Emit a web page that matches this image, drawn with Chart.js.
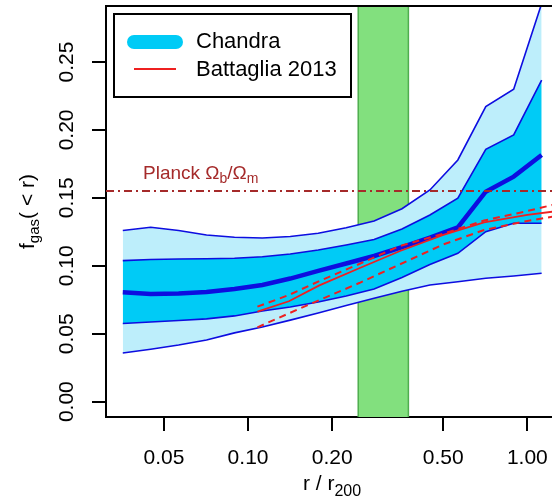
<!DOCTYPE html>
<html>
<head>
<meta charset="utf-8">
<script src="https://cdn.jsdelivr.net/npm/chart.js@4/dist/chart.umd.min.js"></script>
<style>
  html, body { margin: 0; padding: 0; background: #fff; overflow: hidden; }
</style>
</head>
<body>
<canvas id="c" width="552" height="499"></canvas>
<script>
// Chandra profile, radii in r/r200
const radii = [0.0356, 0.0448, 0.0564, 0.0710, 0.0894, 0.1125, 0.1416, 0.1783,
               0.2245, 0.2826, 0.3557, 0.4478, 0.5638, 0.7098, 0.8935, 1.125];
const outerUpper = [0.126, 0.1283, 0.126, 0.1227, 0.121, 0.1205, 0.1215, 0.124,
                    0.128, 0.133, 0.142, 0.1558, 0.1779, 0.2171, 0.2299, 0.293];
const innerUpper = [0.1038, 0.1046, 0.105, 0.1052, 0.1055, 0.1067, 0.1087, 0.1116,
                    0.1153, 0.1194, 0.1271, 0.1374, 0.1497, 0.1857, 0.1963, 0.2367];
const median = [0.0805, 0.0793, 0.0796, 0.0807, 0.0829, 0.0859, 0.0906, 0.0962,
                0.1017, 0.1072, 0.1138, 0.1208, 0.1283, 0.1545, 0.1656, 0.1815];
const innerLower = [0.0575, 0.0586, 0.0597, 0.0609, 0.0631, 0.0667, 0.0697, 0.0734,
                    0.0778, 0.0829, 0.0914, 0.101, 0.1092, 0.1251, 0.1313, 0.1313];
const outerLower = [0.0358, 0.0386, 0.0417, 0.0454, 0.0506, 0.055, 0.060, 0.0653,
                    0.0707, 0.0761, 0.0812, 0.0859, 0.0883, 0.0908, 0.0925, 0.0945];

// Battaglia 2013 simulation
const battRadii = [0.108, 0.14, 0.18, 0.25, 0.35, 0.5, 0.7, 1.0, 1.25];
const battMid = [0.0662, 0.0739, 0.0856, 0.0982, 0.1109, 0.1227, 0.132, 0.1374, 0.14];
const battHigh = [0.0699, 0.0785, 0.0888, 0.1013, 0.1146, 0.1236, 0.1333, 0.1403, 0.1451];
const battLow = [0.0547, 0.065, 0.0747, 0.0873, 0.1011, 0.1157, 0.1263, 0.133, 0.1363];

// Planck baryon fraction and the shaded radial range
const planckFrac = 0.155;
const bandRange = [0.248, 0.375];

const xTicks = [0.05, 0.10, 0.20, 0.50, 1.00];
const yTicks = [0.00, 0.05, 0.10, 0.15, 0.20, 0.25];
const legendLabels = ['Chandra', 'Battaglia 2013'];

const X_MIN = 0.031, X_MAX = 1.2253;
const Y_MIN = -0.0113, Y_MAX = 0.2912;

const FONT = "'Liberation Sans', Arial, Helvetica, sans-serif";
const BLUE = '#0d0de0';
const LIGHT = '#bdeefb';
const DARK = '#00cbf6';
const RED = '#ee2020';
const BROWN = '#a52a2a';

const pts = (xs, ys) => xs.map((x, i) => ({ x, y: ys[i] }));

// draw a row of text pieces (for subscripts), centred on x
function drawParts(ctx, parts, x, y, color) {
  let w = 0;
  for (const p of parts) {
    ctx.font = p.size + 'px ' + FONT;
    p.w = ctx.measureText(p.t).width;
    w += p.w;
  }
  let cx = x - w / 2;
  ctx.fillStyle = color;
  ctx.textAlign = 'left';
  ctx.textBaseline = 'alphabetic';
  for (const p of parts) {
    ctx.font = p.size + 'px ' + FONT;
    ctx.fillText(p.t, cx, y + (p.dy || 0));
    cx += p.w;
  }
}

const decorPlugin = {
  id: 'decor',
  afterDatasetsDraw(chart) {
    const ctx = chart.ctx;
    const a = chart.chartArea;
    const ys = chart.scales.y;
    ctx.save();

    // top of the frame
    ctx.strokeStyle = '#000';
    ctx.lineWidth = 2;
    ctx.beginPath();
    ctx.moveTo(a.left - 1, a.top);
    ctx.lineTo(a.right, a.top);
    ctx.stroke();

    // Planck label
    ctx.textAlign = 'left';
    let px = a.left + 37;
    const py = ys.getPixelForValue(planckFrac) - 12;
    const parts = [
      { t: 'Planck \u03A9', size: 19 }, { t: 'b', size: 14, dy: 4 },
      { t: '/\u03A9', size: 19 }, { t: 'm', size: 14, dy: 4 }
    ];
    ctx.fillStyle = BROWN;
    for (const p of parts) {
      ctx.font = p.size + 'px ' + FONT;
      ctx.fillText(p.t, px, py + (p.dy || 0));
      px += ctx.measureText(p.t).width;
    }

    // legend
    const lx = a.left + 8, ly = a.top + 8, lw = 237, lh = 83;
    ctx.fillStyle = '#fff';
    ctx.fillRect(lx, ly, lw, lh);
    ctx.strokeStyle = '#000';
    ctx.lineWidth = 2;
    ctx.strokeRect(lx, ly, lw, lh);

    ctx.lineCap = 'round';
    ctx.strokeStyle = DARK;
    ctx.lineWidth = 14;
    ctx.beginPath();
    ctx.moveTo(lx + 20, ly + 28);
    ctx.lineTo(lx + 62, ly + 28);
    ctx.stroke();

    ctx.lineCap = 'butt';
    ctx.strokeStyle = RED;
    ctx.lineWidth = 2;
    ctx.beginPath();
    ctx.moveTo(lx + 20, ly + 55);
    ctx.lineTo(lx + 62, ly + 55);
    ctx.stroke();

    ctx.fillStyle = '#000';
    ctx.font = '22px ' + FONT;
    ctx.textBaseline = 'middle';
    ctx.fillText(legendLabels[0], lx + 82, ly + 28);
    ctx.fillText(legendLabels[1], lx + 82, ly + 56);
    ctx.restore();
  },
  afterDraw(chart) {
    const ctx = chart.ctx;
    const a = chart.chartArea;
    const ys = chart.scales.y;
    ctx.save();

    // y tick labels, turned to run along the axis
    ctx.fillStyle = '#000';
    ctx.font = '21px ' + FONT;
    ctx.textAlign = 'center';
    ctx.textBaseline = 'alphabetic';
    for (const v of yTicks) {
      ctx.save();
      ctx.translate(a.left - 33, ys.getPixelForValue(v));
      ctx.rotate(-Math.PI / 2);
      ctx.fillText(v.toFixed(2), 0, 0);
      ctx.restore();
    }

    // y title: f_gas(< r)
    ctx.save();
    ctx.translate(34, (a.top + a.bottom) / 2);
    ctx.rotate(-Math.PI / 2);
    drawParts(ctx, [
      { t: 'f', size: 21 }, { t: 'gas', size: 15, dy: 5 }, { t: '( < r)', size: 21 }
    ], 0, 0, '#000');
    ctx.restore();

    // x title: r/r200
    drawParts(ctx, [
      { t: 'r / r', size: 21 }, { t: '200', size: 16, dy: 6 }
    ], 332, 490, '#000');
    ctx.restore();
  }
};

const line = (label, xs, ys, o) => Object.assign({
  label, data: pts(xs, ys), fill: false, pointRadius: 0, borderColor: BLUE, borderWidth: 1.6
}, o);

new Chart(document.getElementById('c'), {
  type: 'line',
  data: {
    datasets: [
      {
        label: 'band',
        data: [
          { x: bandRange[0], y: Y_MIN }, { x: bandRange[0], y: Y_MAX },
          { x: bandRange[1], y: Y_MAX }, { x: bandRange[1], y: Y_MIN }
        ],
        fill: 'start', backgroundColor: '#82e07e', borderColor: '#4fae4f', borderWidth: 1.5,
        pointRadius: 0, order: 10
      },
      line('outer upper', radii, outerUpper, { fill: 2, backgroundColor: LIGHT, order: 9 }),
      line('outer lower', radii, outerLower, { order: 7 }),
      line('inner upper', radii, innerUpper, { fill: 4, backgroundColor: DARK, order: 8 }),
      line('inner lower', radii, innerLower, { order: 6 }),
      line('median', radii, median, { borderWidth: 4.5, order: 5 }),
      line('Planck', [X_MIN, X_MAX], [planckFrac, planckFrac],
        { borderColor: BROWN, borderWidth: 2, borderDash: [8, 4, 2, 4], order: 4 }),
      line('Battaglia high', battRadii, battHigh,
        { borderColor: RED, borderWidth: 2, borderDash: [7, 5], order: 3 }),
      line('Battaglia low', battRadii, battLow,
        { borderColor: RED, borderWidth: 2, borderDash: [7, 5], order: 3 }),
      line('Battaglia 2013', battRadii, battMid, { borderColor: RED, borderWidth: 1.8, order: 2 })
    ]
  },
  options: {
    responsive: false,
    animation: false,
    events: [],
    layout: { padding: { top: 6, left: 0, right: 0, bottom: 0 } },
    elements: { line: { tension: 0 } },
    plugins: { legend: { display: false }, tooltip: { enabled: false } },
    scales: {
      x: {
        type: 'logarithmic', min: X_MIN, max: X_MAX,
        afterBuildTicks: s => { s.ticks = xTicks.map(v => ({ value: v })); },
        afterFit: s => { s.height = 82; s.paddingLeft = 0; s.paddingRight = 0; },
        ticks: {
          color: '#000', font: { family: FONT, size: 21 }, padding: 15,
          autoSkip: false, maxRotation: 0, callback: v => Number(v).toFixed(2)
        },
        grid: { drawOnChartArea: false, drawTicks: true, tickLength: 14, color: '#000', lineWidth: 2 },
        border: { display: true, color: '#000', width: 2 }
      },
      y: {
        type: 'linear', min: Y_MIN, max: Y_MAX,
        afterBuildTicks: s => { s.ticks = yTicks.map(v => ({ value: v })); },
        afterFit: s => { s.width = 106; s.paddingTop = 0; s.paddingBottom = 0; },
        ticks: { color: 'rgba(0,0,0,0)', font: { family: FONT, size: 21 } },
        grid: { drawOnChartArea: false, drawTicks: true, tickLength: 14, color: '#000', lineWidth: 2 },
        border: { display: true, color: '#000', width: 2 }
      }
    }
  },
  plugins: [decorPlugin]
});
</script>
</body>
</html>
